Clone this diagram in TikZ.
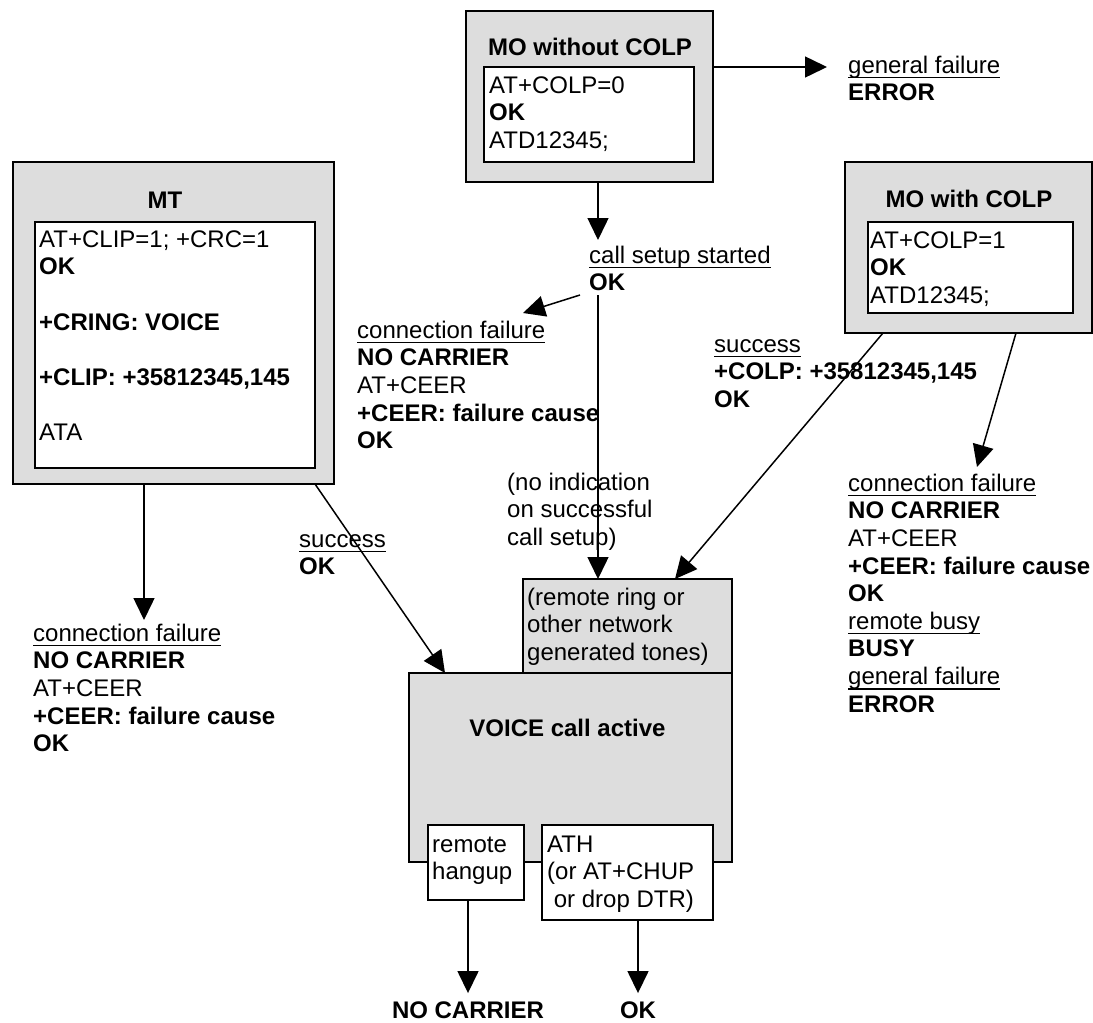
\documentclass[tikz,border=0pt]{standalone}
\usepackage{fontspec}
\setmainfont{Liberation Sans}
\usetikzlibrary{arrows.meta}
\definecolor{boxgray}{RGB}{221,221,221}
\newcommand\fs{\fontsize{24pt}{27.6pt}\selectfont}
\newcommand\tstrut{\rule{0pt}{23pt}}
\newcommand\myul[1]{\setbox0=\hbox{#1}\rlap{\rule[-5.2pt]{\wd0}{1.8pt}}\box0}
\begin{document}
\begin{tikzpicture}[x=1pt,y=-1pt,
  gbox/.style={draw, line width=2pt, fill=boxgray, inner sep=0pt, outer sep=0pt},
  wbox/.style={draw, line width=2pt, fill=white, inner sep=0pt, outer sep=0pt},
  lbl/.style={anchor=north west, inner sep=0pt, align=left, font=\fs},
  ttl/.style={anchor=base, inner sep=0pt, font=\fs\bfseries},
  arr/.style={line width=1.5pt, -{Triangle[length=22pt,width=21pt]}},
  ln/.style={line width=1.5pt}]
\useasboundingbox (0,0) rectangle (1093,1023);

% ---- MO without COLP
\node[gbox, minimum width=247pt, minimum height=171pt] (mowo) at (589.5,96.5) {};
\node[wbox, minimum width=210pt, minimum height=95pt] (mowoin) at (589,114.5) {};
\node[ttl] (mowot) at (590,55) {MO without COLP};
\node[lbl] (mowotx) at (489,70) {\tstrut AT+COLP=0\\\textbf{OK}\\ATD12345;};

% ---- MO with COLP
\node[gbox, minimum width=247pt, minimum height=171pt] (mow) at (968.5,247.5) {};
\node[wbox, minimum width=205pt, minimum height=91pt] (mowin) at (970.5,267.5) {};
\node[ttl] (mowt) at (969,207) {MO with COLP};
\node[lbl] (mowtx) at (870,225) {\tstrut AT+COLP=1\\\textbf{OK}\\ATD12345;};

% ---- MT
\node[gbox, minimum width=321pt, minimum height=322pt] (mt) at (173.5,323) {};
\node[wbox, minimum width=280pt, minimum height=246pt] (mtin) at (175,345) {};
\node[ttl] (mtt) at (165,208) {MT};
\node[lbl] (mttx) at (39,224) {\tstrut AT+CLIP=1; +CRC=1\\\textbf{OK}\\[27.6pt]\textbf{+CRING: VOICE}\\[27.6pt]\textbf{+CLIP: +35812345,145}\\[27.6pt]ATA};

% ---- VOICE call active
\node[gbox, minimum width=323pt, minimum height=189pt] (voice) at (570.5,767.5) {};
\node[gbox, minimum width=209pt, minimum height=94pt] (ring) at (627.5,626) {};
\node[lbl] (ringtx) at (527,582) {\tstrut(remote ring or\\other network\\generated tones)};
\node[ttl] (voicet) at (567.5,736) {VOICE call active};
\node[wbox, minimum width=96pt, minimum height=75pt] (rh) at (476,862.5) {};
\node[wbox, minimum width=171pt, minimum height=95pt] (ath) at (627.5,872.5) {};
\node[lbl] (rhtx) at (432,829) {\tstrut remote\\hangup};
\node[lbl] (athtx) at (547,829) {\tstrut ATH\\(or AT+CHUP\\\ or drop DTR)};
\node[ttl] (nc) at (468,1018) {NO CARRIER};
\node[ttl] (okb) at (638,1018) {OK};

% ---- labels
\node[lbl] (gf1) at (848,50) {\tstrut\myul{general failure}\\\textbf{ERROR}};
\node[lbl] (cs) at (589,240) {\tstrut\myul{call setup started}\\\textbf{OK}};
\node[lbl] (cf1) at (357,315) {\tstrut\myul{connection failure}\\\textbf{NO CARRIER}\\AT+CEER\\\textbf{+CEER: failure cause}\\\textbf{OK}};
\node[lbl] (succ2) at (714,329) {\tstrut\myul{success}\\\textbf{+COLP: +35812345,145}\\\textbf{OK}};
\node[lbl] (noind) at (507,467) {\tstrut(no indication\\on successful\\call setup)};
\node[lbl] (cf2) at (848,468) {\tstrut\myul{connection failure}\\\textbf{NO CARRIER}\\AT+CEER\\\textbf{+CEER: failure cause}\\\textbf{OK}\\\myul{remote busy}\\\textbf{BUSY}\\\myul{general failure}\\\textbf{ERROR}};
\node[lbl] (cf3) at (33,618) {\tstrut\myul{connection failure}\\\textbf{NO CARRIER}\\AT+CEER\\\textbf{+CEER: failure cause}\\\textbf{OK}};
\node[lbl] (succ1) at (299,524) {\tstrut\myul{success}\\\textbf{OK}};

% ---- connectors
\draw[arr] (mowo.east |- mowoin.north) -- ([xshift=-21pt,yshift=-17pt]gf1.north west);
\draw[arr] ([xshift=132pt]mowo.south west) -- ([xshift=9pt]cs.north west);
\draw[arr] ([xshift=-9pt,yshift=-55pt]cs.north west) -- ([xshift=166pt,yshift=2pt]cf1.north west);
\draw[arr] ([xshift=9pt,yshift=-55pt]cs.north west) -- ([xshift=75pt]ring.north west);
\draw[arr] ([xshift=38pt]mow.south west) -- ([xshift=152pt]ring.north west);
\draw[arr] ([xshift=171pt]mow.south west) -- ([xshift=129pt,yshift=1pt]cf2.north west);
\draw[arr] ([xshift=131pt]mt.south west) -- ([xshift=111pt,yshift=-2pt]cf3.north west);
\draw[arr] ([xshift=302pt]mt.south west) -- ([xshift=36pt]voice.north west);
\draw[arr, shorten >=8pt] (rh.south -| nc.north) -- (nc.north);
\draw[arr, shorten >=8pt] (ath.south -| okb.north) -- (okb.north);
\end{tikzpicture}
\end{document}
